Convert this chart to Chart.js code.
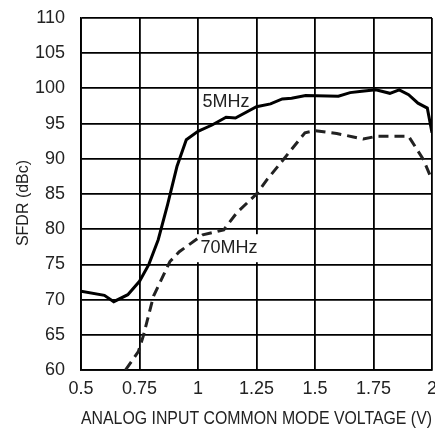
<!DOCTYPE html>
<html>
<head>
<meta charset="utf-8">
<script src="https://cdn.jsdelivr.net/npm/chart.js@4/dist/chart.umd.min.js"></script>
<style>
html,body{margin:0;padding:0;background:#fff;}
#wrap{width:435px;height:434px;position:relative;}
</style>
</head>
<body>
<div id="wrap"><canvas id="c" width="435" height="434"></canvas></div>
<script>
// ---- data ----
const x5MHz = [0.5, 0.6, 0.64, 0.7, 0.75, 0.79, 0.83, 0.87, 0.91, 0.95, 1.0, 1.06, 1.12, 1.16, 1.25, 1.31, 1.36, 1.4, 1.46, 1.6, 1.65, 1.7, 1.76, 1.82, 1.86, 1.9, 1.94, 1.98, 2.0];
const y5MHz = [71.2, 70.6, 69.7, 70.7, 72.6, 75.0, 78.5, 83.5, 88.9, 92.7, 93.9, 94.8, 95.9, 95.8, 97.4, 97.8, 98.5, 98.6, 99.0, 98.9, 99.4, 99.6, 99.8, 99.3, 99.8, 99.1, 97.9, 97.2, 93.7];
const x70MHz = [0.69, 0.745, 0.766, 0.81, 0.88, 0.92, 1.02, 1.11, 1.165, 1.25, 1.294, 1.365, 1.457, 1.5, 1.593, 1.664, 1.706, 1.764, 1.877, 1.9, 1.963, 2.0];
const y70MHz = [60.0, 62.6, 64.8, 70.5, 75.4, 76.8, 79.2, 79.9, 82.3, 85.0, 87.0, 89.9, 93.7, 94.0, 93.6, 93.1, 92.8, 93.2, 93.2, 93.2, 89.9, 87.0];
const xTicks = [0.5, 0.75, 1, 1.25, 1.5, 1.75, 2];
const yTicks = [60, 65, 70, 75, 80, 85, 90, 95, 100, 105, 110];
const seriesNames = ['5MHz', '70MHz'];
const labelPos = [{x: 1.12, y: 98.1}, {x: 1.132, y: 77.3}];
const xTitle = 'ANALOG INPUT COMMON MODE VOLTAGE (V)';
const yTitle = 'SFDR (dBc)';

const NARROW = "'Liberation Sans Narrow', 'Arial Narrow', 'Liberation Sans', Arial, sans-serif";
const REG = "'Liberation Sans', Arial, sans-serif";

const toPts = (xs, ys) => xs.map((x, i) => ({x, y: ys[i]}));

const labelPlugin = {
  id: 'labels',
  beforeDatasetsDraw(chart) {
    const {ctx, scales} = chart;
    ctx.save();
    ctx.font = '18px ' + NARROW;
    ctx.textAlign = 'center';
    ctx.textBaseline = 'middle';
    seriesNames.forEach((name, i) => {
      const px = scales.x.getPixelForValue(labelPos[i].x);
      const py = scales.y.getPixelForValue(labelPos[i].y);
      const w = ctx.measureText(name).width;
      if (i === 1) {
        ctx.fillStyle = '#fff';
        ctx.fillRect(px - w / 2 - 4, py - 14, w + 8, 28);
      }
      ctx.fillStyle = '#222';
      ctx.fillText(name, px, py);
    });
    ctx.restore();
  },
  afterDraw(chart) {
    const {ctx, chartArea} = chart;
    ctx.save();
    ctx.font = '16px ' + REG;
    ctx.fillStyle = '#222';
    ctx.textAlign = 'center';
    ctx.textBaseline = 'middle';
    ctx.translate(24, (chartArea.top + chartArea.bottom) / 2 + 9);
    ctx.rotate(-Math.PI / 2);
    ctx.fillText(yTitle, 0, 0);
    ctx.restore();
  }
};

new Chart(document.getElementById('c'), {
  type: 'line',
  data: {
    datasets: [
      {label: seriesNames[0], data: toPts(x5MHz, y5MHz), borderColor: '#000', borderWidth: 3, pointRadius: 0, tension: 0, fill: false},
      {label: seriesNames[1], data: toPts(x70MHz, y70MHz), borderColor: '#222', borderWidth: 3, borderDash: [10, 6], pointRadius: 0, tension: 0, fill: false}
    ]
  },
  options: {
    responsive: false,
    animation: false,
    layout: {padding: {top: 18, right: 3, left: 0, bottom: 0}},
    plugins: {legend: {display: false}, tooltip: {enabled: false}},
    scales: {
      x: {
        type: 'linear', min: 0.5, max: 2,
        afterBuildTicks: s => { s.ticks = xTicks.map(v => ({value: v})); },
        afterFit: s => { s.height = 64; s.paddingLeft = 0; s.paddingRight = 0; },
        ticks: {color: '#222', font: {size: 18, family: NARROW}, padding: 8, maxRotation: 0,
          callback: v => String(v)},
        grid: {color: '#000', lineWidth: 1.8, drawTicks: false},
        border: {display: true, color: '#000', width: 1.8},
        title: {display: true, text: xTitle, color: '#222', font: {size: 18, family: NARROW}, padding: {top: 0, bottom: 4}}
      },
      y: {
        type: 'linear', min: 60, max: 110,
        afterBuildTicks: s => { s.ticks = yTicks.map(v => ({value: v})); },
        afterFit: s => { s.width = 81; s.paddingTop = 0; s.paddingBottom = 0; },
        ticks: {color: '#222', font: {size: 18, family: NARROW}, padding: 16},
        grid: {color: '#000', lineWidth: 1.8, drawTicks: false},
        border: {display: true, color: '#000', width: 1.8}
      }
    }
  },
  plugins: [labelPlugin]
});
</script>
</body>
</html>
